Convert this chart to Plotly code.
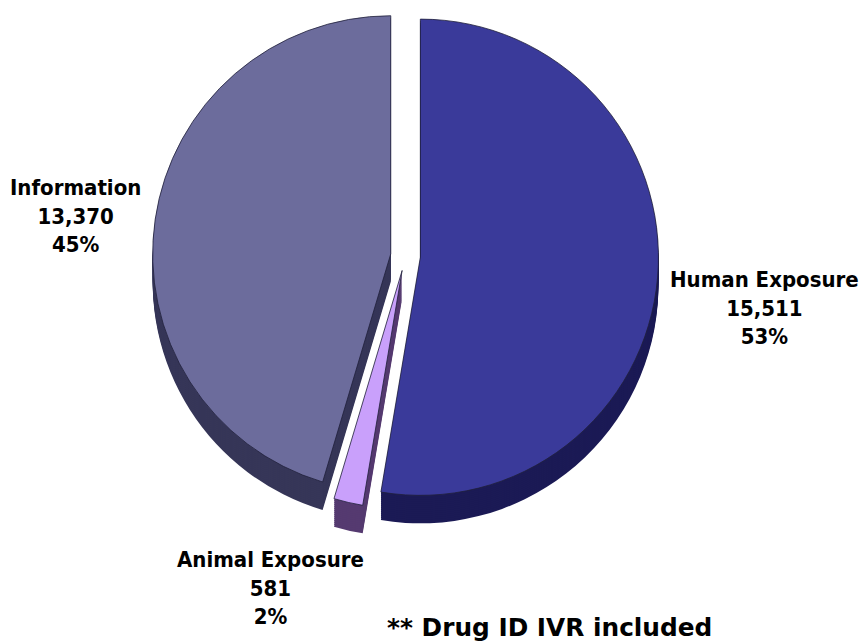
import plotly.graph_objects as go

categories = ["Human Exposure", "Animal Exposure", "Information"]
values = [15511, 581, 13370]
percents = ["53%", "2%", "45%"]
pulls = [0.0625, 0.0625, 0.0625]
top_colors = ["#3a3a9a", "#c9a0fb", "#6c6c9c"]
side_colors = ["#1b1a55", "#553a70", "#363658"]
note = "** Drug ID IVR included"

W, H = 859, 641
cx, cy, half = 405.5, 256, 253
depth_px = 28
label_pos = [(764, 308), (270, 588), (75, 216)]


def fx(x):
    return x / W


def fy(y):
    return 1 - y / H


def pie_at(dy, colors, line_color, line_width):
    return go.Pie(
        labels=categories, values=values, pull=pulls, sort=False,
        direction="clockwise", rotation=0, textinfo="none", hoverinfo="label+value",
        showlegend=False,
        marker=dict(colors=colors, line=dict(color=line_color, width=line_width)),
        domain=dict(
            x=[fx(cx - half), fx(cx + half)],
            y=[fy(cy + dy + half), fy(cy + dy - half)],
        ),
    )


fig = go.Figure()
for dy in range(depth_px, 0, -2):
    fig.add_trace(pie_at(dy, side_colors, "rgba(0,0,0,0)", 0))
fig.add_trace(pie_at(0, top_colors, "#20203a", 0.8))

for cat, val, pct, (x, y) in zip(categories, values, percents, label_pos):
    fig.add_annotation(
        x=fx(x), y=fy(y), xref="paper", yref="paper", xanchor="center", yanchor="middle",
        showarrow=False, align="center",
        text=f"<b>{cat}<br>{val:,}<br>{pct}</b>",
        font=dict(family="DejaVu Sans Condensed", size=22, color="#000000"),
    )
fig.add_annotation(
    x=fx(549), y=fy(627), xref="paper", yref="paper", xanchor="center", yanchor="middle",
    showarrow=False, text=f"<b>{note}</b>",
    font=dict(family="DejaVu Sans", size=24.8, color="#000000"),
)

fig.update_layout(width=W, height=H, margin=dict(l=0, r=0, t=0, b=0),
                  paper_bgcolor="white", plot_bgcolor="white")
fig.write_html("out.html", config={"displayModeBar": False},
               post_script="document.body.style.margin='0';document.body.style.overflow='hidden';")
